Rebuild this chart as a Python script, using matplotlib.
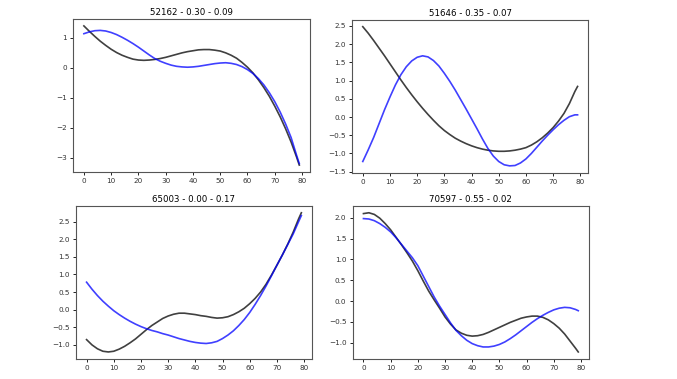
import matplotlib
matplotlib.use("Agg")
import matplotlib.pyplot as plt

x = list(range(0, 80, 2)) + [79]

titles = ["52162 - 0.30 - 0.09", "51646 - 0.35 - 0.07",
          "65003 - 0.00 - 0.17", "70597 - 0.55 - 0.02"]

# black series
black_1 = [1.40, 1.22, 1.05, 0.89, 0.75, 0.62, 0.51, 0.42, 0.35, 0.29,
           0.26, 0.25, 0.26, 0.28, 0.31, 0.35, 0.40, 0.45, 0.50, 0.54,
           0.57, 0.60, 0.61, 0.61, 0.59, 0.56, 0.50, 0.42, 0.32, 0.18,
           0.02, -0.17, -0.40, -0.66, -0.95, -1.28, -1.64, -2.04, -2.48, -2.98,
           -3.25]
black_2 = [2.48, 2.30, 2.10, 1.89, 1.68, 1.46, 1.24, 1.02, 0.81, 0.61,
           0.42, 0.24, 0.07, -0.09, -0.24, -0.37, -0.48, -0.58, -0.66, -0.73,
           -0.79, -0.84, -0.88, -0.91, -0.93, -0.94, -0.94, -0.93, -0.91, -0.88,
           -0.84, -0.77, -0.68, -0.57, -0.44, -0.29, -0.11, 0.10, 0.37, 0.70,
           0.84]
black_3 = [-0.85, -1.00, -1.11, -1.18, -1.20, -1.18, -1.12, -1.04, -0.94, -0.83,
           -0.70, -0.57, -0.45, -0.35, -0.25, -0.18, -0.13, -0.10, -0.10, -0.12,
           -0.14, -0.17, -0.19, -0.22, -0.24, -0.23, -0.20, -0.14, -0.06, 0.04,
           0.17, 0.32, 0.50, 0.72, 0.98, 1.26, 1.55, 1.86, 2.20, 2.58,
           2.75]
black_4 = [2.10, 2.12, 2.08, 1.99, 1.86, 1.71, 1.53, 1.35, 1.16, 0.96,
           0.73, 0.48, 0.24, 0.03, -0.17, -0.38, -0.55, -0.69, -0.77, -0.82,
           -0.84, -0.83, -0.80, -0.75, -0.69, -0.63, -0.57, -0.51, -0.46, -0.41,
           -0.38, -0.36, -0.36, -0.39, -0.45, -0.54, -0.65, -0.79, -0.96, -1.13,
           -1.22]

# blue series
blue_1 = [1.14, 1.20, 1.24, 1.25, 1.23, 1.18, 1.11, 1.02, 0.92, 0.81,
          0.69, 0.56, 0.43, 0.31, 0.22, 0.15, 0.09, 0.05, 0.03, 0.02,
          0.03, 0.05, 0.08, 0.11, 0.14, 0.16, 0.17, 0.15, 0.11, 0.04,
          -0.06, -0.19, -0.36, -0.57, -0.83, -1.13, -1.48, -1.88, -2.33, -2.92,
          -3.20]
blue_2 = [-1.22, -0.90, -0.56, -0.18, 0.20, 0.55, 0.88, 1.16, 1.38, 1.54,
          1.64, 1.68, 1.65, 1.55, 1.40, 1.20, 0.98, 0.74, 0.48, 0.22,
          -0.05, -0.32, -0.60, -0.86, -1.07, -1.22, -1.31, -1.34, -1.33, -1.26,
          -1.15, -1.00, -0.83, -0.66, -0.50, -0.35, -0.21, -0.09, 0.01, 0.06,
          0.06]
blue_3 = [0.78, 0.58, 0.40, 0.24, 0.10, -0.03, -0.14, -0.24, -0.33, -0.41,
          -0.48, -0.54, -0.59, -0.63, -0.68, -0.72, -0.77, -0.82, -0.86, -0.90,
          -0.93, -0.95, -0.96, -0.94, -0.90, -0.82, -0.72, -0.60, -0.45, -0.28,
          -0.08, 0.15, 0.40, 0.67, 0.96, 1.26, 1.55, 1.85, 2.15, 2.50,
          2.67]
blue_4 = [1.98, 1.97, 1.93, 1.86, 1.77, 1.66, 1.52, 1.36, 1.20, 1.04,
          0.85, 0.60, 0.35, 0.10, -0.12, -0.32, -0.52, -0.70, -0.83, -0.94,
          -1.02, -1.07, -1.10, -1.10, -1.08, -1.04, -0.98, -0.90, -0.81, -0.71,
          -0.61, -0.51, -0.42, -0.34, -0.27, -0.21, -0.17, -0.15, -0.16, -0.20,
          -0.23]

blacks = [black_1, black_2, black_3, black_4]
blues = [blue_1, blue_2, blue_3, blue_4]

fig = plt.figure(figsize=(6.77, 3.79), dpi=100)

# axes boxes: left, bottom, width, height (figure fractions)
boxes = [
    [0.108, 0.546, 0.350, 0.404],
    [0.520, 0.544, 0.349, 0.404],
    [0.112, 0.053, 0.349, 0.404],
    [0.521, 0.053, 0.349, 0.404],
]

for box, title, yb, yl in zip(boxes, titles, blacks, blues):
    ax = fig.add_axes(box)
    ax.plot(x, yb, color="k", alpha=0.75, linewidth=1.2)
    ax.plot(x, yl, color="b", alpha=0.75, linewidth=1.2)
    ax.set_title(title, fontsize=6.2, pad=3)
    ax.tick_params(labelsize=5.2, length=2.5, width=0.6, pad=2,
                   labelcolor="#333333")
    for s in ax.spines.values():
        s.set_linewidth(0.8)
        s.set_color("#555555")
    ax.set_xticks([0, 10, 20, 30, 40, 50, 60, 70, 80])

fig.savefig("out.png", dpi=100)
